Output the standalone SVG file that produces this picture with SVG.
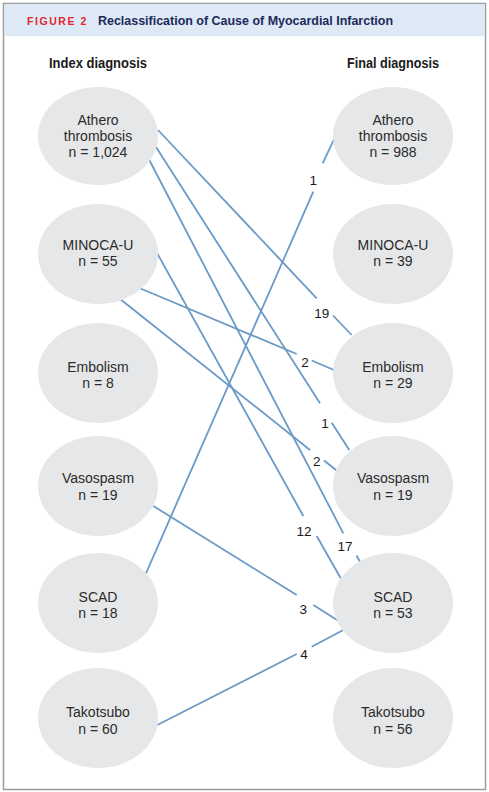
<svg xmlns="http://www.w3.org/2000/svg" width="489" height="792" viewBox="0 0 489 792">
<style>
.frame{fill:#ffffff;stroke:#9b9b9b;stroke-width:1.5}
.band{fill:#dde9f5}
.fig{font-family:"Liberation Sans",Arial,sans-serif;font-weight:bold;font-size:10.5px;fill:#e3262d;letter-spacing:1.7px}
.title{font-family:"Liberation Sans",Arial,sans-serif;font-weight:bold;font-size:12px;fill:#1c2a5a}
.head{font-family:"Liberation Sans",Arial,sans-serif;font-weight:bold;font-size:14px;fill:#1a1a1a;text-anchor:middle}
.node ellipse{fill:#e6e7e8}
.node text{font-family:"Liberation Sans",Arial,sans-serif;font-size:14px;fill:#2b2b2b;text-anchor:middle}
.conn line{stroke:#6b9ac6;stroke-width:1.8;fill:none}
.lbl{font-family:"Liberation Sans",Arial,sans-serif;font-size:13.5px;fill:#1a1a1a;text-anchor:middle}
</style>
<rect class="frame" x="3.5" y="3.5" width="482" height="786"/>
<rect class="band" x="4.25" y="4.25" width="480.5" height="32"/>
<text class="fig" x="27" y="24.5" textLength="61" lengthAdjust="spacing">FIGURE 2</text>
<text class="title" x="98" y="24.5" textLength="295" lengthAdjust="spacingAndGlyphs">Reclassification of Cause of Myocardial Infarction</text>
<text class="head" x="98" y="68" textLength="98" lengthAdjust="spacingAndGlyphs">Index diagnosis</text>
<text class="head" x="393" y="68" textLength="92" lengthAdjust="spacingAndGlyphs">Final diagnosis</text>

<g id="connectors" class="conn">
  <line x1="158" y1="130" x2="316.7" y2="298.3"/>
  <line x1="333" y1="315.5" x2="351.7" y2="335"/>
  <line x1="156" y1="147" x2="320" y2="403.3"/>
  <line x1="331.7" y1="422.7" x2="349.3" y2="450"/>
  <line x1="149.3" y1="160" x2="343.3" y2="533.3"/>
  <line x1="356.5" y1="555.5" x2="360" y2="561.7"/>
  <line x1="137" y1="287" x2="296.7" y2="354"/>
  <line x1="311.7" y1="360.5" x2="334" y2="370"/>
  <line x1="117.3" y1="296.7" x2="310" y2="450"/>
  <line x1="324" y1="460.5" x2="336.7" y2="470.5"/>
  <line x1="157" y1="253" x2="303.3" y2="516"/>
  <line x1="316.7" y1="536" x2="340.7" y2="578.3"/>
  <line x1="153.3" y1="506" x2="296.7" y2="595"/>
  <line x1="313.3" y1="605" x2="338.3" y2="620.7"/>
  <line x1="157.3" y1="725" x2="296.7" y2="654"/>
  <line x1="311.7" y1="646.7" x2="343.3" y2="630"/>
  <line x1="146" y1="573.3" x2="313.3" y2="191.7"/>
  <line x1="322.7" y1="163.3" x2="334" y2="139.3"/>
  <text class="lbl" x="321.7" y="318">19</text>
  <text class="lbl" x="325" y="427.5">1</text>
  <text class="lbl" x="345" y="550.7">17</text>
  <text class="lbl" x="305" y="366.7">2</text>
  <text class="lbl" x="316.7" y="466.4">2</text>
  <text class="lbl" x="304" y="535.7">12</text>
  <text class="lbl" x="303.3" y="614">3</text>
  <text class="lbl" x="304" y="658.7">4</text>
  <text class="lbl" x="313.3" y="184.7">1</text>
</g>

<g id="idx-athero" class="node"><ellipse cx="98" cy="136" rx="60" ry="49"/><text x="98" y="125">Athero</text><text x="98" y="141">thrombosis</text><text x="98" y="157">n = 1,024</text></g>
<g id="idx-minoca" class="node"><ellipse cx="98" cy="254" rx="60" ry="50"/><text x="98" y="249.5">MINOCA-U</text><text x="98" y="266">n = 55</text></g>
<g id="idx-embolism" class="node"><ellipse cx="98" cy="373" rx="60" ry="50"/><text x="98" y="371.5">Embolism</text><text x="98" y="387.5">n = 8</text></g>
<g id="idx-vasospasm" class="node"><ellipse cx="98" cy="486" rx="60" ry="50"/><text x="98" y="483">Vasospasm</text><text x="98" y="499.5">n = 19</text></g>
<g id="idx-scad" class="node"><ellipse cx="98" cy="603" rx="60" ry="50"/><text x="98" y="601.5">SCAD</text><text x="98" y="618">n = 18</text></g>
<g id="idx-takotsubo" class="node"><ellipse cx="98" cy="718" rx="60" ry="50"/><text x="98" y="717">Takotsubo</text><text x="98" y="733.5">n = 60</text></g>

<g id="fin-athero" class="node"><ellipse cx="393" cy="136" rx="60" ry="49"/><text x="393" y="125">Athero</text><text x="393" y="141">thrombosis</text><text x="393" y="157">n = 988</text></g>
<g id="fin-minoca" class="node"><ellipse cx="393" cy="254" rx="60" ry="50"/><text x="393" y="249.5">MINOCA-U</text><text x="393" y="266">n = 39</text></g>
<g id="fin-embolism" class="node"><ellipse cx="393" cy="373" rx="60" ry="50"/><text x="393" y="371.5">Embolism</text><text x="393" y="387.5">n = 29</text></g>
<g id="fin-vasospasm" class="node"><ellipse cx="393" cy="486" rx="60" ry="50"/><text x="393" y="483">Vasospasm</text><text x="393" y="499.5">n = 19</text></g>
<g id="fin-scad" class="node"><ellipse cx="393" cy="603" rx="60" ry="50"/><text x="393" y="601.5">SCAD</text><text x="393" y="618">n = 53</text></g>
<g id="fin-takotsubo" class="node"><ellipse cx="393" cy="718" rx="60" ry="50"/><text x="393" y="717">Takotsubo</text><text x="393" y="733.5">n = 56</text></g>
</svg>
